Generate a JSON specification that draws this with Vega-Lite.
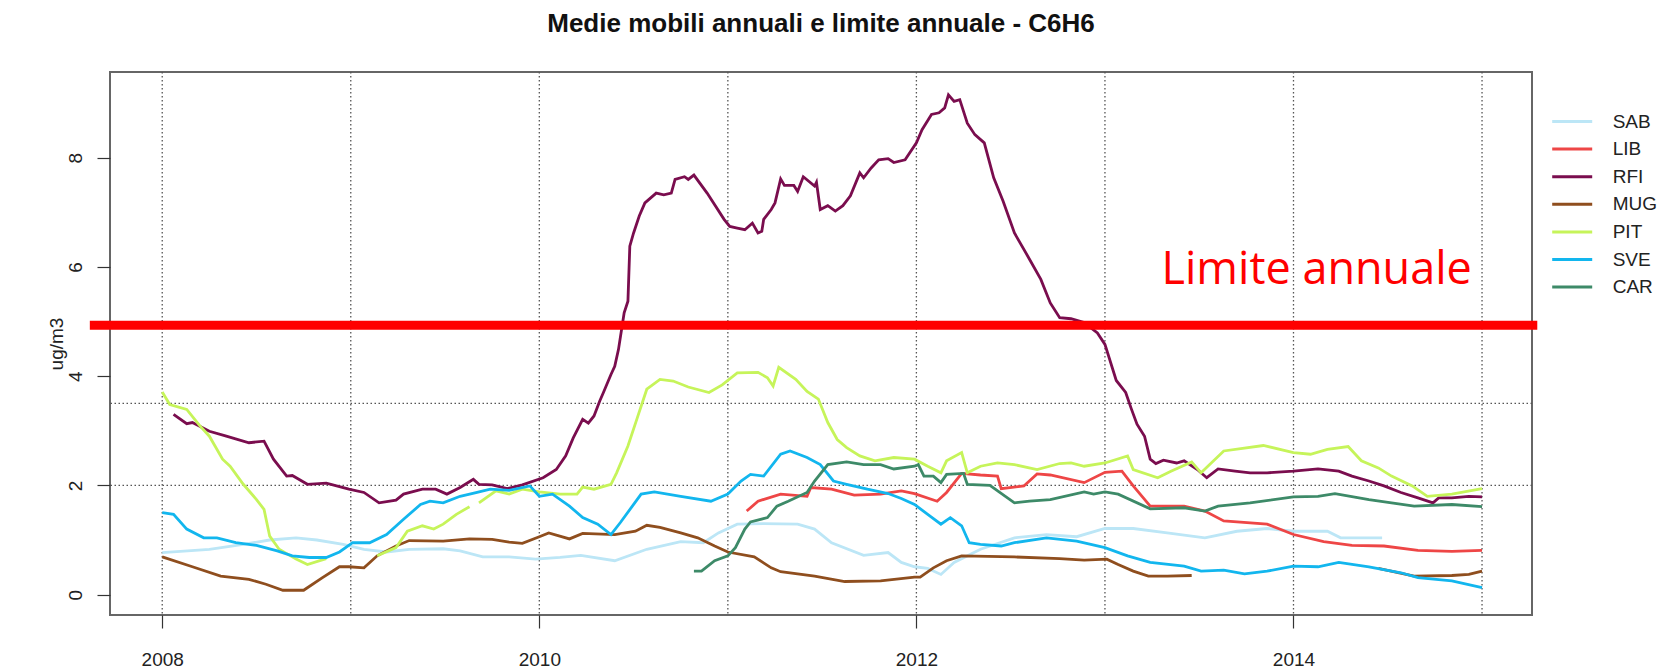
{
  "$schema": "https://vega.github.io/schema/vega-lite/v6.json",
  "width": 1422,
  "height": 543,
  "autosize": {"type": "none"},
  "padding": {"left": 110, "top": 72, "right": 134, "bottom": 54},
  "background": "white",
  "title": {"text": "Medie mobili annuali e limite annuale - C6H6", "font": "Liberation Sans", "fontSize": 26, "fontWeight": "bold", "color": "#111", "anchor": "middle", "offset": 34},
  "config": {
    "view": {"stroke": "#666", "strokeWidth": 2},
    "axis": {"labelFont": "Liberation Sans", "titleFont": "Liberation Sans", "labelColor": "#222", "titleColor": "#222", "tickColor": "#333", "tickWidth": 1.2, "grid": false, "domain": false}
  },
  "datasets": {
    "serie": [
      {"s": "SAB", "t": 2008.0, "v": 0.77}, {"s": "SAB", "t": 2008.25, "v": 0.83}, {"s": "SAB", "t": 2008.43, "v": 0.92}, {"s": "SAB", "t": 2008.57, "v": 1.0}, {"s": "SAB", "t": 2008.71, "v": 1.04}, {"s": "SAB", "t": 2008.82, "v": 1.0}, {"s": "SAB", "t": 2008.96, "v": 0.92}, {"s": "SAB", "t": 2009.07, "v": 0.83}, {"s": "SAB", "t": 2009.19, "v": 0.78}, {"s": "SAB", "t": 2009.31, "v": 0.83}, {"s": "SAB", "t": 2009.49, "v": 0.84}, {"s": "SAB", "t": 2009.58, "v": 0.8}, {"s": "SAB", "t": 2009.7, "v": 0.69}, {"s": "SAB", "t": 2009.84, "v": 0.69}, {"s": "SAB", "t": 2009.98, "v": 0.65}, {"s": "SAB", "t": 2010.11, "v": 0.68}, {"s": "SAB", "t": 2010.22, "v": 0.72}, {"s": "SAB", "t": 2010.4, "v": 0.62}, {"s": "SAB", "t": 2010.57, "v": 0.83}, {"s": "SAB", "t": 2010.75, "v": 0.97}, {"s": "SAB", "t": 2010.87, "v": 0.95}, {"s": "SAB", "t": 2010.95, "v": 1.13}, {"s": "SAB", "t": 2011.05, "v": 1.29}, {"s": "SAB", "t": 2011.19, "v": 1.3}, {"s": "SAB", "t": 2011.37, "v": 1.29}, {"s": "SAB", "t": 2011.46, "v": 1.2}, {"s": "SAB", "t": 2011.55, "v": 0.95}, {"s": "SAB", "t": 2011.72, "v": 0.72}, {"s": "SAB", "t": 2011.85, "v": 0.77}, {"s": "SAB", "t": 2011.92, "v": 0.59}, {"s": "SAB", "t": 2011.99, "v": 0.51}, {"s": "SAB", "t": 2012.06, "v": 0.48}, {"s": "SAB", "t": 2012.13, "v": 0.37}, {"s": "SAB", "t": 2012.2, "v": 0.59}, {"s": "SAB", "t": 2012.34, "v": 0.83}, {"s": "SAB", "t": 2012.52, "v": 1.04}, {"s": "SAB", "t": 2012.69, "v": 1.1}, {"s": "SAB", "t": 2012.85, "v": 1.06}, {"s": "SAB", "t": 2013.0, "v": 1.21}, {"s": "SAB", "t": 2013.15, "v": 1.21}, {"s": "SAB", "t": 2013.33, "v": 1.13}, {"s": "SAB", "t": 2013.53, "v": 1.04}, {"s": "SAB", "t": 2013.7, "v": 1.16}, {"s": "SAB", "t": 2013.86, "v": 1.21}, {"s": "SAB", "t": 2014.0, "v": 1.16}, {"s": "SAB", "t": 2014.18, "v": 1.16}, {"s": "SAB", "t": 2014.25, "v": 1.04}, {"s": "SAB", "t": 2014.47, "v": 1.04},

      {"s": "LIB", "t": 2011.1, "v": 1.53}, {"s": "LIB", "t": 2011.16, "v": 1.71}, {"s": "LIB", "t": 2011.28, "v": 1.84}, {"s": "LIB", "t": 2011.42, "v": 1.8}, {"s": "LIB", "t": 2011.44, "v": 1.96}, {"s": "LIB", "t": 2011.55, "v": 1.93}, {"s": "LIB", "t": 2011.67, "v": 1.82}, {"s": "LIB", "t": 2011.81, "v": 1.84}, {"s": "LIB", "t": 2011.92, "v": 1.9}, {"s": "LIB", "t": 2011.99, "v": 1.85}, {"s": "LIB", "t": 2012.11, "v": 1.71}, {"s": "LIB", "t": 2012.16, "v": 1.87}, {"s": "LIB", "t": 2012.24, "v": 2.22}, {"s": "LIB", "t": 2012.34, "v": 2.19}, {"s": "LIB", "t": 2012.43, "v": 2.17}, {"s": "LIB", "t": 2012.45, "v": 1.94}, {"s": "LIB", "t": 2012.57, "v": 1.99}, {"s": "LIB", "t": 2012.64, "v": 2.21}, {"s": "LIB", "t": 2012.71, "v": 2.19}, {"s": "LIB", "t": 2012.89, "v": 2.05}, {"s": "LIB", "t": 2013.0, "v": 2.24}, {"s": "LIB", "t": 2013.09, "v": 2.26}, {"s": "LIB", "t": 2013.15, "v": 1.99}, {"s": "LIB", "t": 2013.24, "v": 1.62}, {"s": "LIB", "t": 2013.42, "v": 1.62}, {"s": "LIB", "t": 2013.53, "v": 1.53}, {"s": "LIB", "t": 2013.63, "v": 1.35}, {"s": "LIB", "t": 2013.86, "v": 1.29}, {"s": "LIB", "t": 2014.0, "v": 1.1}, {"s": "LIB", "t": 2014.16, "v": 0.97}, {"s": "LIB", "t": 2014.31, "v": 0.9}, {"s": "LIB", "t": 2014.48, "v": 0.89}, {"s": "LIB", "t": 2014.66, "v": 0.81}, {"s": "LIB", "t": 2014.84, "v": 0.79}, {"s": "LIB", "t": 2015.0, "v": 0.81},

      {"s": "RFI", "t": 2008.06, "v": 3.3}, {"s": "RFI", "t": 2008.13, "v": 3.13}, {"s": "RFI", "t": 2008.16, "v": 3.15}, {"s": "RFI", "t": 2008.25, "v": 2.99}, {"s": "RFI", "t": 2008.34, "v": 2.9}, {"s": "RFI", "t": 2008.46, "v": 2.78}, {"s": "RFI", "t": 2008.54, "v": 2.81}, {"s": "RFI", "t": 2008.59, "v": 2.48}, {"s": "RFI", "t": 2008.66, "v": 2.17}, {"s": "RFI", "t": 2008.69, "v": 2.18}, {"s": "RFI", "t": 2008.77, "v": 2.02}, {"s": "RFI", "t": 2008.87, "v": 2.04}, {"s": "RFI", "t": 2008.99, "v": 1.93}, {"s": "RFI", "t": 2009.07, "v": 1.87}, {"s": "RFI", "t": 2009.15, "v": 1.68}, {"s": "RFI", "t": 2009.24, "v": 1.73}, {"s": "RFI", "t": 2009.28, "v": 1.84}, {"s": "RFI", "t": 2009.38, "v": 1.93}, {"s": "RFI", "t": 2009.45, "v": 1.93}, {"s": "RFI", "t": 2009.51, "v": 1.84}, {"s": "RFI", "t": 2009.58, "v": 1.96}, {"s": "RFI", "t": 2009.65, "v": 2.11}, {"s": "RFI", "t": 2009.68, "v": 2.02}, {"s": "RFI", "t": 2009.75, "v": 2.01}, {"s": "RFI", "t": 2009.83, "v": 1.94}, {"s": "RFI", "t": 2009.91, "v": 2.01}, {"s": "RFI", "t": 2010.02, "v": 2.14}, {"s": "RFI", "t": 2010.09, "v": 2.29}, {"s": "RFI", "t": 2010.14, "v": 2.54}, {"s": "RFI", "t": 2010.18, "v": 2.87}, {"s": "RFI", "t": 2010.23, "v": 3.21}, {"s": "RFI", "t": 2010.26, "v": 3.14}, {"s": "RFI", "t": 2010.29, "v": 3.27}, {"s": "RFI", "t": 2010.32, "v": 3.54}, {"s": "RFI", "t": 2010.34, "v": 3.7}, {"s": "RFI", "t": 2010.38, "v": 4.03}, {"s": "RFI", "t": 2010.4, "v": 4.18}, {"s": "RFI", "t": 2010.42, "v": 4.49}, {"s": "RFI", "t": 2010.45, "v": 5.16}, {"s": "RFI", "t": 2010.47, "v": 5.37}, {"s": "RFI", "t": 2010.48, "v": 6.38}, {"s": "RFI", "t": 2010.5, "v": 6.62}, {"s": "RFI", "t": 2010.53, "v": 6.93}, {"s": "RFI", "t": 2010.56, "v": 7.17}, {"s": "RFI", "t": 2010.62, "v": 7.35}, {"s": "RFI", "t": 2010.66, "v": 7.32}, {"s": "RFI", "t": 2010.7, "v": 7.35}, {"s": "RFI", "t": 2010.72, "v": 7.6}, {"s": "RFI", "t": 2010.77, "v": 7.65}, {"s": "RFI", "t": 2010.79, "v": 7.6}, {"s": "RFI", "t": 2010.82, "v": 7.68}, {"s": "RFI", "t": 2010.89, "v": 7.35}, {"s": "RFI", "t": 2010.98, "v": 6.87}, {"s": "RFI", "t": 2011.01, "v": 6.74}, {"s": "RFI", "t": 2011.05, "v": 6.71}, {"s": "RFI", "t": 2011.09, "v": 6.68}, {"s": "RFI", "t": 2011.13, "v": 6.8}, {"s": "RFI", "t": 2011.16, "v": 6.62}, {"s": "RFI", "t": 2011.18, "v": 6.65}, {"s": "RFI", "t": 2011.19, "v": 6.87}, {"s": "RFI", "t": 2011.23, "v": 7.05}, {"s": "RFI", "t": 2011.25, "v": 7.17}, {"s": "RFI", "t": 2011.28, "v": 7.61}, {"s": "RFI", "t": 2011.3, "v": 7.49}, {"s": "RFI", "t": 2011.35, "v": 7.49}, {"s": "RFI", "t": 2011.37, "v": 7.38}, {"s": "RFI", "t": 2011.4, "v": 7.65}, {"s": "RFI", "t": 2011.46, "v": 7.48}, {"s": "RFI", "t": 2011.47, "v": 7.55}, {"s": "RFI", "t": 2011.49, "v": 7.05}, {"s": "RFI", "t": 2011.53, "v": 7.12}, {"s": "RFI", "t": 2011.57, "v": 7.02}, {"s": "RFI", "t": 2011.61, "v": 7.12}, {"s": "RFI", "t": 2011.65, "v": 7.3}, {"s": "RFI", "t": 2011.7, "v": 7.72}, {"s": "RFI", "t": 2011.72, "v": 7.63}, {"s": "RFI", "t": 2011.76, "v": 7.81}, {"s": "RFI", "t": 2011.8, "v": 7.96}, {"s": "RFI", "t": 2011.85, "v": 7.98}, {"s": "RFI", "t": 2011.88, "v": 7.91}, {"s": "RFI", "t": 2011.94, "v": 7.96}, {"s": "RFI", "t": 2012.0, "v": 8.27}, {"s": "RFI", "t": 2012.03, "v": 8.51}, {"s": "RFI", "t": 2012.08, "v": 8.79}, {"s": "RFI", "t": 2012.12, "v": 8.82}, {"s": "RFI", "t": 2012.15, "v": 8.91}, {"s": "RFI", "t": 2012.17, "v": 9.15}, {"s": "RFI", "t": 2012.2, "v": 9.03}, {"s": "RFI", "t": 2012.23, "v": 9.06}, {"s": "RFI", "t": 2012.27, "v": 8.63}, {"s": "RFI", "t": 2012.31, "v": 8.42}, {"s": "RFI", "t": 2012.36, "v": 8.27}, {"s": "RFI", "t": 2012.41, "v": 7.63}, {"s": "RFI", "t": 2012.46, "v": 7.2}, {"s": "RFI", "t": 2012.52, "v": 6.62}, {"s": "RFI", "t": 2012.59, "v": 6.2}, {"s": "RFI", "t": 2012.66, "v": 5.77}, {"s": "RFI", "t": 2012.71, "v": 5.34}, {"s": "RFI", "t": 2012.76, "v": 5.07}, {"s": "RFI", "t": 2012.82, "v": 5.05}, {"s": "RFI", "t": 2012.89, "v": 4.98}, {"s": "RFI", "t": 2012.96, "v": 4.79}, {"s": "RFI", "t": 2013.0, "v": 4.58}, {"s": "RFI", "t": 2013.06, "v": 3.92}, {"s": "RFI", "t": 2013.11, "v": 3.7}, {"s": "RFI", "t": 2013.14, "v": 3.4}, {"s": "RFI", "t": 2013.17, "v": 3.12}, {"s": "RFI", "t": 2013.21, "v": 2.9}, {"s": "RFI", "t": 2013.24, "v": 2.48}, {"s": "RFI", "t": 2013.27, "v": 2.4}, {"s": "RFI", "t": 2013.31, "v": 2.46}, {"s": "RFI", "t": 2013.38, "v": 2.41}, {"s": "RFI", "t": 2013.42, "v": 2.45}, {"s": "RFI", "t": 2013.49, "v": 2.29}, {"s": "RFI", "t": 2013.54, "v": 2.14}, {"s": "RFI", "t": 2013.6, "v": 2.3}, {"s": "RFI", "t": 2013.69, "v": 2.26}, {"s": "RFI", "t": 2013.77, "v": 2.23}, {"s": "RFI", "t": 2013.86, "v": 2.23}, {"s": "RFI", "t": 2014.0, "v": 2.26}, {"s": "RFI", "t": 2014.13, "v": 2.3}, {"s": "RFI", "t": 2014.24, "v": 2.26}, {"s": "RFI", "t": 2014.31, "v": 2.17}, {"s": "RFI", "t": 2014.4, "v": 2.08}, {"s": "RFI", "t": 2014.48, "v": 1.99}, {"s": "RFI", "t": 2014.57, "v": 1.87}, {"s": "RFI", "t": 2014.66, "v": 1.77}, {"s": "RFI", "t": 2014.74, "v": 1.68}, {"s": "RFI", "t": 2014.77, "v": 1.77}, {"s": "RFI", "t": 2014.84, "v": 1.77}, {"s": "RFI", "t": 2014.93, "v": 1.8}, {"s": "RFI", "t": 2015.0, "v": 1.79},

      {"s": "MUG", "t": 2008.0, "v": 0.69}, {"s": "MUG", "t": 2008.16, "v": 0.51}, {"s": "MUG", "t": 2008.31, "v": 0.34}, {"s": "MUG", "t": 2008.46, "v": 0.28}, {"s": "MUG", "t": 2008.55, "v": 0.19}, {"s": "MUG", "t": 2008.64, "v": 0.08}, {"s": "MUG", "t": 2008.75, "v": 0.08}, {"s": "MUG", "t": 2008.85, "v": 0.31}, {"s": "MUG", "t": 2008.94, "v": 0.51}, {"s": "MUG", "t": 2008.99, "v": 0.51}, {"s": "MUG", "t": 2009.07, "v": 0.49}, {"s": "MUG", "t": 2009.14, "v": 0.71}, {"s": "MUG", "t": 2009.24, "v": 0.89}, {"s": "MUG", "t": 2009.31, "v": 0.99}, {"s": "MUG", "t": 2009.49, "v": 0.98}, {"s": "MUG", "t": 2009.63, "v": 1.02}, {"s": "MUG", "t": 2009.75, "v": 1.01}, {"s": "MUG", "t": 2009.84, "v": 0.96}, {"s": "MUG", "t": 2009.91, "v": 0.94}, {"s": "MUG", "t": 2010.0, "v": 1.06}, {"s": "MUG", "t": 2010.05, "v": 1.13}, {"s": "MUG", "t": 2010.16, "v": 1.02}, {"s": "MUG", "t": 2010.23, "v": 1.12}, {"s": "MUG", "t": 2010.4, "v": 1.1}, {"s": "MUG", "t": 2010.51, "v": 1.16}, {"s": "MUG", "t": 2010.57, "v": 1.27}, {"s": "MUG", "t": 2010.64, "v": 1.23}, {"s": "MUG", "t": 2010.75, "v": 1.13}, {"s": "MUG", "t": 2010.84, "v": 1.04}, {"s": "MUG", "t": 2010.93, "v": 0.89}, {"s": "MUG", "t": 2011.0, "v": 0.78}, {"s": "MUG", "t": 2011.14, "v": 0.69}, {"s": "MUG", "t": 2011.23, "v": 0.49}, {"s": "MUG", "t": 2011.28, "v": 0.42}, {"s": "MUG", "t": 2011.46, "v": 0.34}, {"s": "MUG", "t": 2011.62, "v": 0.24}, {"s": "MUG", "t": 2011.81, "v": 0.25}, {"s": "MUG", "t": 2011.99, "v": 0.32}, {"s": "MUG", "t": 2012.02, "v": 0.32}, {"s": "MUG", "t": 2012.09, "v": 0.49}, {"s": "MUG", "t": 2012.16, "v": 0.62}, {"s": "MUG", "t": 2012.24, "v": 0.71}, {"s": "MUG", "t": 2012.52, "v": 0.69}, {"s": "MUG", "t": 2012.76, "v": 0.66}, {"s": "MUG", "t": 2012.89, "v": 0.63}, {"s": "MUG", "t": 2013.01, "v": 0.65}, {"s": "MUG", "t": 2013.07, "v": 0.55}, {"s": "MUG", "t": 2013.15, "v": 0.43}, {"s": "MUG", "t": 2013.23, "v": 0.34}, {"s": "MUG", "t": 2013.33, "v": 0.34}, {"s": "MUG", "t": 2013.46, "v": 0.35}, {"s": "MUG", "t": 2014.0, "v": null}, {"s": "MUG", "t": 2014.45, "v": 0.48}, {"s": "MUG", "t": 2014.64, "v": 0.34}, {"s": "MUG", "t": 2014.84, "v": 0.35}, {"s": "MUG", "t": 2014.93, "v": 0.37}, {"s": "MUG", "t": 2015.0, "v": 0.43},

      {"s": "PIT", "t": 2008.0, "v": 3.71}, {"s": "PIT", "t": 2008.04, "v": 3.48}, {"s": "PIT", "t": 2008.13, "v": 3.39}, {"s": "PIT", "t": 2008.2, "v": 3.09}, {"s": "PIT", "t": 2008.25, "v": 2.9}, {"s": "PIT", "t": 2008.32, "v": 2.48}, {"s": "PIT", "t": 2008.36, "v": 2.35}, {"s": "PIT", "t": 2008.43, "v": 2.02}, {"s": "PIT", "t": 2008.5, "v": 1.74}, {"s": "PIT", "t": 2008.54, "v": 1.56}, {"s": "PIT", "t": 2008.57, "v": 1.07}, {"s": "PIT", "t": 2008.62, "v": 0.83}, {"s": "PIT", "t": 2008.71, "v": 0.65}, {"s": "PIT", "t": 2008.77, "v": 0.55}, {"s": "PIT", "t": 2008.87, "v": 0.66}, {"s": "PIT", "t": 2009.0, "v": null}, {"s": "PIT", "t": 2009.14, "v": 0.71}, {"s": "PIT", "t": 2009.24, "v": 0.86}, {"s": "PIT", "t": 2009.3, "v": 1.16}, {"s": "PIT", "t": 2009.38, "v": 1.26}, {"s": "PIT", "t": 2009.44, "v": 1.2}, {"s": "PIT", "t": 2009.49, "v": 1.29}, {"s": "PIT", "t": 2009.56, "v": 1.47}, {"s": "PIT", "t": 2009.63, "v": 1.61}, {"s": "PIT", "t": 2009.655, "v": null}, {"s": "PIT", "t": 2009.68, "v": 1.68}, {"s": "PIT", "t": 2009.77, "v": 1.9}, {"s": "PIT", "t": 2009.84, "v": 1.84}, {"s": "PIT", "t": 2009.91, "v": 1.93}, {"s": "PIT", "t": 2010.0, "v": 1.88}, {"s": "PIT", "t": 2010.11, "v": 1.84}, {"s": "PIT", "t": 2010.2, "v": 1.84}, {"s": "PIT", "t": 2010.23, "v": 1.97}, {"s": "PIT", "t": 2010.29, "v": 1.93}, {"s": "PIT", "t": 2010.38, "v": 2.02}, {"s": "PIT", "t": 2010.41, "v": 2.23}, {"s": "PIT", "t": 2010.47, "v": 2.72}, {"s": "PIT", "t": 2010.52, "v": 3.24}, {"s": "PIT", "t": 2010.57, "v": 3.76}, {"s": "PIT", "t": 2010.64, "v": 3.94}, {"s": "PIT", "t": 2010.71, "v": 3.91}, {"s": "PIT", "t": 2010.79, "v": 3.8}, {"s": "PIT", "t": 2010.9, "v": 3.7}, {"s": "PIT", "t": 2010.97, "v": 3.84}, {"s": "PIT", "t": 2011.05, "v": 4.06}, {"s": "PIT", "t": 2011.16, "v": 4.07}, {"s": "PIT", "t": 2011.21, "v": 3.97}, {"s": "PIT", "t": 2011.24, "v": 3.82}, {"s": "PIT", "t": 2011.27, "v": 4.16}, {"s": "PIT", "t": 2011.36, "v": 3.94}, {"s": "PIT", "t": 2011.42, "v": 3.72}, {"s": "PIT", "t": 2011.48, "v": 3.58}, {"s": "PIT", "t": 2011.53, "v": 3.15}, {"s": "PIT", "t": 2011.58, "v": 2.84}, {"s": "PIT", "t": 2011.63, "v": 2.69}, {"s": "PIT", "t": 2011.7, "v": 2.54}, {"s": "PIT", "t": 2011.78, "v": 2.45}, {"s": "PIT", "t": 2011.88, "v": 2.51}, {"s": "PIT", "t": 2011.99, "v": 2.48}, {"s": "PIT", "t": 2012.06, "v": 2.35}, {"s": "PIT", "t": 2012.13, "v": 2.23}, {"s": "PIT", "t": 2012.16, "v": 2.45}, {"s": "PIT", "t": 2012.24, "v": 2.6}, {"s": "PIT", "t": 2012.27, "v": 2.23}, {"s": "PIT", "t": 2012.34, "v": 2.35}, {"s": "PIT", "t": 2012.43, "v": 2.41}, {"s": "PIT", "t": 2012.52, "v": 2.38}, {"s": "PIT", "t": 2012.64, "v": 2.29}, {"s": "PIT", "t": 2012.76, "v": 2.4}, {"s": "PIT", "t": 2012.82, "v": 2.41}, {"s": "PIT", "t": 2012.89, "v": 2.35}, {"s": "PIT", "t": 2013.0, "v": 2.41}, {"s": "PIT", "t": 2013.12, "v": 2.54}, {"s": "PIT", "t": 2013.15, "v": 2.29}, {"s": "PIT", "t": 2013.28, "v": 2.14}, {"s": "PIT", "t": 2013.35, "v": 2.26}, {"s": "PIT", "t": 2013.46, "v": 2.43}, {"s": "PIT", "t": 2013.51, "v": 2.23}, {"s": "PIT", "t": 2013.63, "v": 2.63}, {"s": "PIT", "t": 2013.84, "v": 2.73}, {"s": "PIT", "t": 2014.0, "v": 2.6}, {"s": "PIT", "t": 2014.09, "v": 2.57}, {"s": "PIT", "t": 2014.18, "v": 2.66}, {"s": "PIT", "t": 2014.29, "v": 2.71}, {"s": "PIT", "t": 2014.36, "v": 2.45}, {"s": "PIT", "t": 2014.45, "v": 2.32}, {"s": "PIT", "t": 2014.52, "v": 2.17}, {"s": "PIT", "t": 2014.63, "v": 1.99}, {"s": "PIT", "t": 2014.71, "v": 1.8}, {"s": "PIT", "t": 2014.84, "v": 1.84}, {"s": "PIT", "t": 2015.0, "v": 1.94},

      {"s": "SVE", "t": 2008.0, "v": 1.5}, {"s": "SVE", "t": 2008.06, "v": 1.47}, {"s": "SVE", "t": 2008.13, "v": 1.2}, {"s": "SVE", "t": 2008.22, "v": 1.04}, {"s": "SVE", "t": 2008.29, "v": 1.04}, {"s": "SVE", "t": 2008.39, "v": 0.95}, {"s": "SVE", "t": 2008.5, "v": 0.9}, {"s": "SVE", "t": 2008.61, "v": 0.8}, {"s": "SVE", "t": 2008.69, "v": 0.71}, {"s": "SVE", "t": 2008.78, "v": 0.68}, {"s": "SVE", "t": 2008.87, "v": 0.68}, {"s": "SVE", "t": 2008.94, "v": 0.78}, {"s": "SVE", "t": 2009.01, "v": 0.95}, {"s": "SVE", "t": 2009.1, "v": 0.95}, {"s": "SVE", "t": 2009.19, "v": 1.1}, {"s": "SVE", "t": 2009.28, "v": 1.38}, {"s": "SVE", "t": 2009.37, "v": 1.65}, {"s": "SVE", "t": 2009.42, "v": 1.71}, {"s": "SVE", "t": 2009.49, "v": 1.68}, {"s": "SVE", "t": 2009.58, "v": 1.8}, {"s": "SVE", "t": 2009.67, "v": 1.87}, {"s": "SVE", "t": 2009.74, "v": 1.93}, {"s": "SVE", "t": 2009.84, "v": 1.91}, {"s": "SVE", "t": 2009.95, "v": 1.99}, {"s": "SVE", "t": 2010.0, "v": 1.8}, {"s": "SVE", "t": 2010.07, "v": 1.84}, {"s": "SVE", "t": 2010.16, "v": 1.62}, {"s": "SVE", "t": 2010.23, "v": 1.41}, {"s": "SVE", "t": 2010.31, "v": 1.29}, {"s": "SVE", "t": 2010.38, "v": 1.1}, {"s": "SVE", "t": 2010.43, "v": 1.32}, {"s": "SVE", "t": 2010.54, "v": 1.84}, {"s": "SVE", "t": 2010.61, "v": 1.88}, {"s": "SVE", "t": 2010.75, "v": 1.8}, {"s": "SVE", "t": 2010.91, "v": 1.71}, {"s": "SVE", "t": 2011.0, "v": 1.84}, {"s": "SVE", "t": 2011.07, "v": 2.08}, {"s": "SVE", "t": 2011.12, "v": 2.2}, {"s": "SVE", "t": 2011.19, "v": 2.17}, {"s": "SVE", "t": 2011.28, "v": 2.57}, {"s": "SVE", "t": 2011.33, "v": 2.63}, {"s": "SVE", "t": 2011.42, "v": 2.51}, {"s": "SVE", "t": 2011.49, "v": 2.38}, {"s": "SVE", "t": 2011.56, "v": 2.08}, {"s": "SVE", "t": 2011.63, "v": 2.02}, {"s": "SVE", "t": 2011.74, "v": 1.93}, {"s": "SVE", "t": 2011.85, "v": 1.85}, {"s": "SVE", "t": 2011.92, "v": 1.76}, {"s": "SVE", "t": 2011.99, "v": 1.65}, {"s": "SVE", "t": 2012.06, "v": 1.47}, {"s": "SVE", "t": 2012.13, "v": 1.29}, {"s": "SVE", "t": 2012.18, "v": 1.41}, {"s": "SVE", "t": 2012.24, "v": 1.26}, {"s": "SVE", "t": 2012.28, "v": 0.95}, {"s": "SVE", "t": 2012.34, "v": 0.92}, {"s": "SVE", "t": 2012.45, "v": 0.89}, {"s": "SVE", "t": 2012.52, "v": 0.95}, {"s": "SVE", "t": 2012.69, "v": 1.04}, {"s": "SVE", "t": 2012.85, "v": 0.98}, {"s": "SVE", "t": 2013.0, "v": 0.86}, {"s": "SVE", "t": 2013.12, "v": 0.71}, {"s": "SVE", "t": 2013.24, "v": 0.59}, {"s": "SVE", "t": 2013.42, "v": 0.52}, {"s": "SVE", "t": 2013.51, "v": 0.43}, {"s": "SVE", "t": 2013.63, "v": 0.45}, {"s": "SVE", "t": 2013.74, "v": 0.38}, {"s": "SVE", "t": 2013.86, "v": 0.43}, {"s": "SVE", "t": 2014.0, "v": 0.52}, {"s": "SVE", "t": 2014.13, "v": 0.51}, {"s": "SVE", "t": 2014.24, "v": 0.59}, {"s": "SVE", "t": 2014.4, "v": 0.51}, {"s": "SVE", "t": 2014.57, "v": 0.4}, {"s": "SVE", "t": 2014.66, "v": 0.31}, {"s": "SVE", "t": 2014.84, "v": 0.25}, {"s": "SVE", "t": 2015.0, "v": 0.13},

      {"s": "CAR", "t": 2010.82, "v": 0.43}, {"s": "CAR", "t": 2010.86, "v": 0.43}, {"s": "CAR", "t": 2010.93, "v": 0.62}, {"s": "CAR", "t": 2011.0, "v": 0.71}, {"s": "CAR", "t": 2011.04, "v": 0.86}, {"s": "CAR", "t": 2011.09, "v": 1.2}, {"s": "CAR", "t": 2011.12, "v": 1.33}, {"s": "CAR", "t": 2011.21, "v": 1.41}, {"s": "CAR", "t": 2011.26, "v": 1.62}, {"s": "CAR", "t": 2011.32, "v": 1.71}, {"s": "CAR", "t": 2011.42, "v": 1.87}, {"s": "CAR", "t": 2011.46, "v": 2.08}, {"s": "CAR", "t": 2011.53, "v": 2.38}, {"s": "CAR", "t": 2011.63, "v": 2.43}, {"s": "CAR", "t": 2011.72, "v": 2.38}, {"s": "CAR", "t": 2011.81, "v": 2.38}, {"s": "CAR", "t": 2011.88, "v": 2.3}, {"s": "CAR", "t": 2011.99, "v": 2.35}, {"s": "CAR", "t": 2012.01, "v": 2.38}, {"s": "CAR", "t": 2012.04, "v": 2.17}, {"s": "CAR", "t": 2012.09, "v": 2.17}, {"s": "CAR", "t": 2012.13, "v": 2.05}, {"s": "CAR", "t": 2012.16, "v": 2.2}, {"s": "CAR", "t": 2012.25, "v": 2.22}, {"s": "CAR", "t": 2012.27, "v": 2.02}, {"s": "CAR", "t": 2012.39, "v": 2.0}, {"s": "CAR", "t": 2012.52, "v": 1.68}, {"s": "CAR", "t": 2012.6, "v": 1.71}, {"s": "CAR", "t": 2012.71, "v": 1.74}, {"s": "CAR", "t": 2012.89, "v": 1.88}, {"s": "CAR", "t": 2012.94, "v": 1.84}, {"s": "CAR", "t": 2013.0, "v": 1.88}, {"s": "CAR", "t": 2013.07, "v": 1.84}, {"s": "CAR", "t": 2013.24, "v": 1.57}, {"s": "CAR", "t": 2013.42, "v": 1.59}, {"s": "CAR", "t": 2013.53, "v": 1.53}, {"s": "CAR", "t": 2013.6, "v": 1.62}, {"s": "CAR", "t": 2013.77, "v": 1.68}, {"s": "CAR", "t": 2014.0, "v": 1.79}, {"s": "CAR", "t": 2014.13, "v": 1.8}, {"s": "CAR", "t": 2014.22, "v": 1.85}, {"s": "CAR", "t": 2014.4, "v": 1.74}, {"s": "CAR", "t": 2014.64, "v": 1.62}, {"s": "CAR", "t": 2014.84, "v": 1.65}, {"s": "CAR", "t": 2015.0, "v": 1.61}
    ],
    "grigliaY": [{"g": 2}, {"g": 3.5}],
    "grigliaX": [{"g": 2008}, {"g": 2009}, {"g": 2010}, {"g": 2011}, {"g": 2012}, {"g": 2013}, {"g": 2014}, {"g": 2015}],
    "limite": [{"da": 2007.616, "a": 2015.293, "v": 4.93, "etichetta": "Limite annuale", "tx": 2013.3, "ty": 5.68}]
  },
  "layer": [
    {
      "data": {"name": "grigliaY"},
      "mark": {"type": "rule", "color": "#555", "strokeWidth": 1.3, "strokeDash": [1.5, 2.5]},
      "encoding": {"y": {"field": "g", "type": "quantitative", "scale": {"domain": [-0.373, 9.567], "nice": false, "zero": false}, "axis": {"values": [0, 2, 4, 6, 8], "labelAngle": -90, "labelFontSize": 19, "tickSize": 13, "labelPadding": 12, "title": "ug/m3", "titleFontSize": 19, "titleFontWeight": "normal", "titlePadding": 0}}}
    },
    {
      "data": {"name": "grigliaX"},
      "mark": {"type": "rule", "color": "#555", "strokeWidth": 1.3, "strokeDash": [1.5, 2.5]},
      "encoding": {"x": {"field": "g", "type": "quantitative", "scale": {"domain": [2007.723, 2015.265], "nice": false, "zero": false}, "axis": {"values": [2008, 2010, 2012, 2014], "format": "d", "labelFontSize": 19, "tickSize": 13, "labelPadding": 22, "title": null}}}
    },
    {
      "data": {"name": "serie"},
      "mark": {"type": "line", "strokeWidth": 2.8},
      "encoding": {
        "x": {"field": "t", "type": "quantitative"},
        "y": {"field": "v", "type": "quantitative"},
        "color": {"field": "s", "type": "nominal", "scale": {"domain": ["SAB", "LIB", "RFI", "MUG", "PIT", "SVE", "CAR"], "range": ["#bce6f6", "#ee4646", "#7a0d4e", "#8f4e1e", "#c6f45a", "#12b6ee", "#3d8a68"]},
          "legend": {"title": null, "orient": "none", "legendX": 1450.7, "legendY": 38, "padding": 0, "symbolType": "M-2,0L2,0", "symbolSize": 400, "symbolStrokeWidth": 3, "labelFont": "Liberation Sans", "labelFontSize": 19, "labelColor": "#222", "labelOffset": 29, "rowPadding": 5.6}
        }
      }
    },
    {
      "data": {"name": "limite"},
      "mark": {"type": "rule", "color": "#ff0000", "strokeWidth": 9, "clip": false},
      "encoding": {"x": {"field": "da", "type": "quantitative"}, "x2": {"field": "a"}, "y": {"field": "v", "type": "quantitative"}}
    },
    {
      "data": {"name": "limite"},
      "mark": {"type": "text", "color": "#ff0000", "font": "Open Sans", "fontSize": 45, "align": "left", "baseline": "alphabetic"},
      "encoding": {"x": {"field": "tx", "type": "quantitative"}, "y": {"field": "ty", "type": "quantitative"}, "text": {"field": "etichetta"}}
    }
  ]
}
